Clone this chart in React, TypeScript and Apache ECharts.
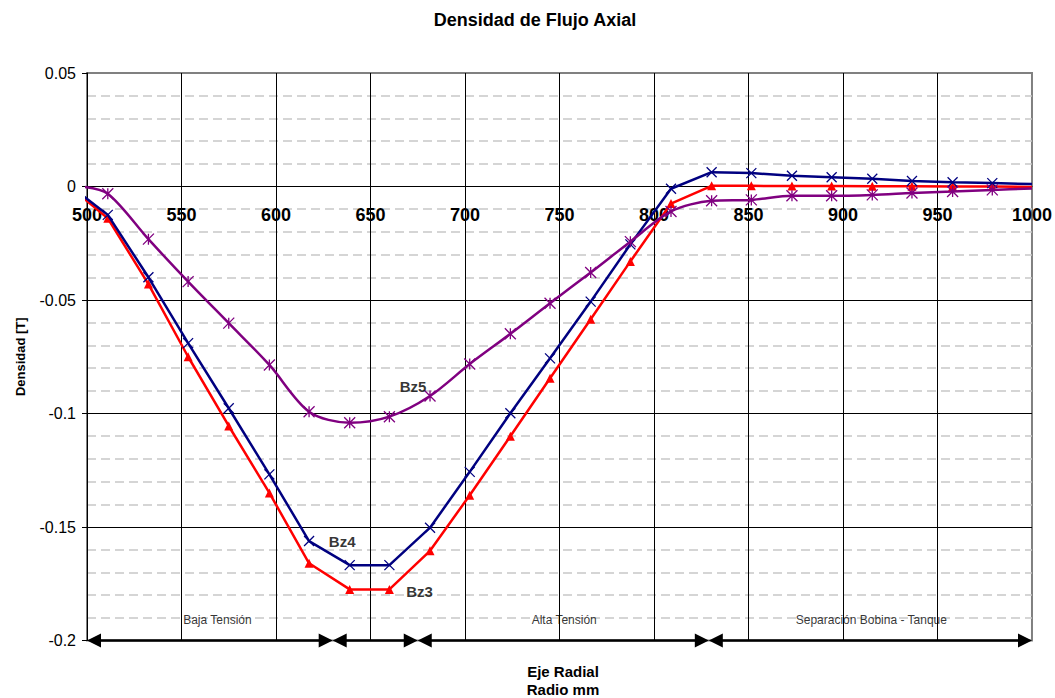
import { useEffect, useRef } from "react";
import * as echarts from "echarts";

const FONT = '"Liberation Sans", Arial, Helvetica, sans-serif';

// Radial position (mm)
const radius = [
  496.5, 511, 532.5, 553.5, 575, 596.5, 617.5, 639, 660, 681.5, 702.5, 724, 745,
  766.5, 787.5, 809, 830.5, 851.5, 873, 894, 915.5, 936.5, 958, 979, 1000,
];
// Axial flux density [T]
const bz3 = [
  -0.004, -0.014, -0.043, -0.075, -0.1055, -0.135, -0.166, -0.1775, -0.1775,
  -0.1605, -0.136, -0.11, -0.0845, -0.0585, -0.033, -0.0075, 0.0003, 0.0003,
  0.0002, 0.0002, 0.0001, 0.0001, 0, 0, -0.0002,
];
const bz4 = [
  -0.0032, -0.0125, -0.04, -0.069, -0.0977, -0.1268, -0.1562, -0.1668, -0.1668,
  -0.1503, -0.1257, -0.0999, -0.0757, -0.0507, -0.0255, -0.001, 0.0063, 0.0059,
  0.0047, 0.0041, 0.0034, 0.0024, 0.0019, 0.0015, 0.0011,
];
const bz5 = [
  0, -0.0032, -0.0232, -0.0419, -0.0602, -0.0786, -0.0992, -0.1041, -0.1014,
  -0.0923, -0.0782, -0.0649, -0.0514, -0.0379, -0.0243, -0.011, -0.0063, -0.0059,
  -0.0041, -0.0041, -0.0037, -0.0029, -0.0022, -0.0015, -0.0009,
];

const curveLabelText = ["Bz5", "Bz4", "Bz3"];
const curveLabelX = [672.5, 635, 676];
const curveLabelY = [-0.088, -0.1563, -0.1783];

const regionNames = ["Baja Tensión", "Alta Tensión", "Separación Bobina - Tanque"];
const regionLabelX = [569, 752.5, 915];
const regionLabelY = -0.191;
const regionBounds = [500, 630, 675, 829, 1000];

const X_MIN = 500;
const X_MAX = 1000;
const X_STEP = 50;
const Y_MIN = -0.2;
const Y_MAX = 0.05;
const Y_STEP = 0.05;

const title = "Densidad de Flujo Axial";
const xTitle = "Eje Radial\nRadio mm";
const yTitle = "Densidad [T]";

function toData(ys: number[]) {
  return radius.map((x, i) => {
    const item: any = { value: [x, ys[i]] };
    if (i === 0 || i === radius.length - 1) item.symbol = "none";
    return item;
  });
}

export default function App() {
  const ref = useRef<HTMLDivElement>(null);
  useEffect(() => {
    if (!ref.current) return;
    const chart = echarts.init(ref.current, undefined, { renderer: "svg" });
    const gridTop = 73;
    const gridHeight = 567.5;
    const zeroOffset = -gridHeight * ((0 - Y_MIN) / (Y_MAX - Y_MIN));
    const inset = 3.7;
    const arrowData = regionBounds.slice(0, -1).map((b, i) => [
      { coord: [b + inset, Y_MIN] },
      { coord: [regionBounds[i + 1] - inset, Y_MIN] },
    ]);
    const option: any = {
      animation: false,
      backgroundColor: "#ffffff",
      textStyle: { fontFamily: FONT },
      title: [
        {
          text: title,
          left: 530,
          top: 6,
          textAlign: "center",
          textStyle: { fontSize: 18, fontWeight: "bold", color: "#000", fontFamily: FONT },
        },
        {
          text: xTitle,
          left: 558,
          top: 657,
          textAlign: "center",
          textStyle: {
            fontSize: 15,
            fontWeight: "bold",
            color: "#000",
            lineHeight: 18,
            fontFamily: FONT,
          },
        },
      ],
      grid: {
        left: 87,
        top: gridTop,
        width: 948,
        height: gridHeight,
        show: true,
        borderColor: "#808080",
        borderWidth: 2,
        backgroundColor: "transparent",
      },
      xAxis: {
        type: "value",
        min: X_MIN,
        max: X_MAX,
        interval: X_STEP,
        position: "bottom",
        offset: zeroOffset,
        axisLine: { onZero: false, lineStyle: { color: "#000", width: 1 } },
        axisTick: { show: false },
        axisLabel: {
          fontSize: 18,
          fontWeight: "bold",
          color: "#000",
          margin: 19,
          fontFamily: FONT,
          formatter: (v: number) => String(v),
        },
        splitLine: {
          show: true,
          showMinLine: false,
          showMaxLine: false,
          lineStyle: { color: "#000", width: 1 },
        },
      },
      yAxis: {
        type: "value",
        min: Y_MIN,
        max: Y_MAX,
        interval: Y_STEP,
        name: yTitle,
        nameLocation: "middle",
        nameGap: 60,
        nameTextStyle: { fontSize: 13, fontWeight: "bold", color: "#000", fontFamily: FONT },
        axisLine: { show: true, onZero: false, lineStyle: { color: "#000", width: 1 } },
        axisTick: { show: true, length: 5, lineStyle: { color: "#000" } },
        axisLabel: { fontSize: 16, color: "#000", margin: 11, fontFamily: FONT },
        splitLine: {
          show: true,
          showMinLine: false,
          showMaxLine: false,
          lineStyle: { color: "#000", width: 1 },
        },
        minorTick: { show: false, splitNumber: 5 },
        minorSplitLine: {
          show: true,
          lineStyle: { color: "#c8c8c8", width: 1.5, type: [9, 5] },
        },
      },
      series: [
        {
          type: "line",
          name: "Bz3",
          data: toData(bz3),
          clip: false,
          symbol: "triangle",
          symbolSize: 9,
          itemStyle: { color: "#ff0000" },
          lineStyle: { color: "#ff0000", width: 2.5 },
          emphasis: { disabled: true },
          z: 3,
        },
        {
          type: "line",
          name: "Bz4",
          data: toData(bz4),
          clip: false,
          symbol: "path://M0,0L10,10M10,0L0,10",
          symbolSize: 10,
          itemStyle: { color: "rgba(0,0,0,0)", borderColor: "#000080", borderWidth: 1.3 },
          lineStyle: { color: "#000080", width: 2.5 },
          emphasis: { disabled: true },
          z: 4,
        },
        {
          type: "line",
          name: "Bz5",
          data: toData(bz5),
          clip: false,
          smooth: 0.3,
          symbol: "path://M0,0L10,10M10,0L0,10M5,0L5,10",
          symbolSize: 11,
          itemStyle: { color: "rgba(0,0,0,0)", borderColor: "#800080", borderWidth: 1.3 },
          lineStyle: { color: "#800080", width: 2.5 },
          emphasis: { disabled: true },
          z: 5,
        },
        {
          type: "scatter",
          name: "curveLabels",
          data: curveLabelText.map((t, i) => ({ name: t, value: [curveLabelX[i], curveLabelY[i]] })),
          symbolSize: 1,
          itemStyle: { color: "rgba(0,0,0,0)" },
          label: {
            show: true,
            position: "inside",
            formatter: "{b}",
            fontSize: 15,
            fontWeight: "bold",
            color: "#000",
            fontFamily: FONT,
          },
          silent: true,
          z: 6,
        },
        {
          type: "scatter",
          name: "regions",
          data: regionNames.map((t, i) => ({ name: t, value: [regionLabelX[i], regionLabelY] })),
          symbolSize: 1,
          itemStyle: { color: "rgba(0,0,0,0)" },
          label: {
            show: true,
            position: "inside",
            formatter: "{b}",
            fontSize: 12,
            color: "#000",
            fontFamily: FONT,
          },
          silent: true,
          clip: false,
          z: 6,
          markLine: {
            silent: true,
            symbol: ["triangle", "triangle"],
            symbolSize: 14,
            label: { show: false },
            lineStyle: { color: "#000", width: 2.5, type: "solid" },
            emphasis: { disabled: true },
            data: arrowData,
          },
        },
      ],
    };
    chart.setOption(option);
    return () => chart.dispose();
  }, []);
  return (
    <div
      ref={ref}
      style={{ position: "fixed", left: 0, top: 0, width: 1055, height: 698, background: "#fff" }}
    />
  );
}
